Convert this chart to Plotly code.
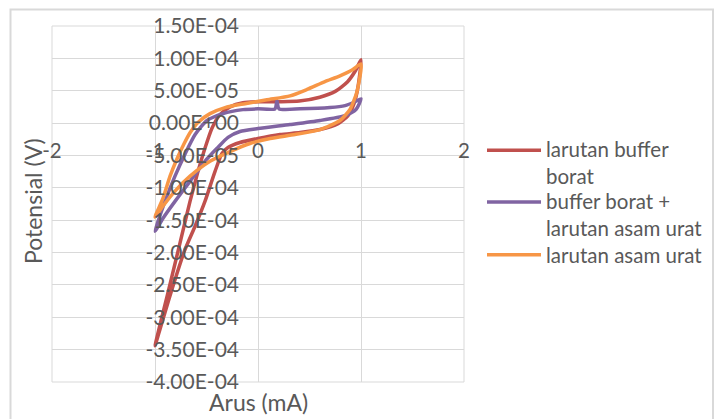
import plotly.graph_objects as go

# ---- data -------------------------------------------------------------
series_names = ["larutan buffer borat", "buffer borat + larutan asam urat", "larutan asam urat"]
legend_labels = ["larutan buffer<br>borat", "buffer borat +<br>larutan asam urat", "larutan asam urat"]
series_colors = ["#C0504D", "#8064A2", "#F79646"]

# larutan buffer borat: forward sweep then reverse sweep
buffer_x = [-1.0, -0.874, -0.757, -0.660, -0.583, -0.515, -0.447, -0.369, -0.272, -0.146, 0.0,
            0.214, 0.40, 0.60, 0.75, 0.87, 0.95, 1.0,
            0.971, 0.932, 0.874, 0.777, 0.602, 0.408, 0.214, 0.0, -0.175, -0.291, -0.350,
            -0.417, -0.515, -0.610, -0.715, -0.855, -1.0]
buffer_y = [-3.44e-4, -2.62e-4, -1.85e-4, -1.21e-4, -7.5e-5, -3.9e-5, -8e-6, 1.3e-5, 2.5e-5, 3.15e-5, 3.3e-5,
            3.3e-5, 3.4e-5, 4.0e-5, 4.9e-5, 6.4e-5, 8.2e-5, 9.8e-5,
            5.6e-5, 3.0e-5, 1.15e-5, -1e-6, -1.0e-5, -1.46e-5, -1.77e-5, -2.38e-5, -3.0e-5, -3.77e-5, -4.7e-5,
            -7.46e-5, -1.21e-4, -1.59e-4, -1.98e-4, -2.67e-4, -3.44e-4]

# buffer borat + larutan asam urat
campur_x = [-1.0, -0.971, -0.903, -0.806, -0.709, -0.612, -0.495, -0.340, -0.146, 0.0, 0.165, 0.184, 0.204,
            0.408, 0.699, 0.845, 0.942, 1.0,
            0.951, 0.845, 0.602, 0.311, 0.0, -0.175, -0.291, -0.398, -0.515, -0.660, -0.806, -0.922, -1.0]
campur_y = [-1.67e-4, -1.52e-4, -1.21e-4, -8.2e-5, -4.8e-5, -1.8e-5, 4e-6, 1.46e-5, 2.08e-5, 2.2e-5, 2.2e-5, 3.45e-5, 2.2e-5,
            2.2e-5, 2.4e-5, 2.7e-5, 3.3e-5, 3.75e-5,
            2.1e-5, 1.15e-5, 4e-6, -2.3e-6, -8.5e-6, -1.3e-5, -2.2e-5, -3.9e-5, -5.9e-5, -9.0e-5, -1.21e-4, -1.47e-4, -1.67e-4]

# larutan asam urat
urat_x = [-1.0, -0.922, -0.854, -0.786, -0.718, -0.660, -0.583, -0.466, -0.320, -0.126, 0.087, 0.311, 0.476,
          0.650, 0.796, 0.913, 1.0,
          0.961, 0.893, 0.796, 0.602, 0.359, 0.117, -0.078, -0.272, -0.466, -0.660, -0.806, -0.922, -1.0]
urat_y = [-1.45e-4, -1.16e-4, -8.2e-5, -5.5e-5, -3.2e-5, -1.5e-5, 1e-6, 1.46e-5, 2.4e-5, 3.0e-5, 3.6e-5, 4.2e-5, 5.2e-5,
          6.4e-5, 7.3e-5, 8.2e-5, 9.15e-5,
          4.85e-5, 2.1e-5, 4e-6, -1.0e-5, -1.77e-5, -2.38e-5, -3.15e-5, -4.4e-5, -5.9e-5, -8.2e-5, -1.05e-4, -1.28e-4, -1.45e-4]

x_tick_vals = [-2, -1, 0, 1, 2]
x_tick_text = ["-2", "-1", "0", "1", "2"]
y_tick_vals = [1.5e-4, 1.0e-4, 5.0e-5, 0.0, -5.0e-5, -1.0e-4, -1.5e-4, -2.0e-4, -2.5e-4, -3.0e-4, -3.5e-4, -4.0e-4]
y_tick_text = ["1.50E-04", "1.00E-04", "5.00E-05", "0.00E+00", "-5.00E-05", "-1.00E-04", "-1.50E-04",
               "-2.00E-04", "-2.50E-04", "-3.00E-04", "-3.50E-04", "-4.00E-04"]

# ---- layout geometry (pixels) ----------------------------------------
W, H = 714, 419
ML, MR, MT, MB = 52, 250, 24, 37
PW, PH = W - ML - MR, H - MT - MB


def px_x(px):
    return (px - ML) / PW


def px_y(py):
    return (H - MB - py) / PH


TEXT = "#595959"
GRID = "#D9D9D9"
FONT = "Lato"

fig = go.Figure()
for name, xs, ys, col in zip(series_names, [buffer_x, campur_x, urat_x], [buffer_y, campur_y, urat_y], series_colors):
    fig.add_trace(go.Scatter(x=xs, y=ys, mode="lines", name=name, showlegend=False,
                             line=dict(color=col, width=3.5, shape="spline", smoothing=0.6)))

x_min, x_max = x_tick_vals[0], x_tick_vals[-1]
y_min, y_max = y_tick_vals[-1], y_tick_vals[0]

fig.update_layout(
    width=W, height=H,
    margin=dict(l=ML, r=MR, t=MT, b=MB, pad=0),
    paper_bgcolor="white", plot_bgcolor="white",
    font=dict(family=FONT, color=TEXT, size=20),
    xaxis=dict(range=[x_min, x_max], tickvals=x_tick_vals, ticktext=x_tick_text,
               showgrid=True, gridcolor=GRID, gridwidth=1, zeroline=False,
               showline=False, ticks="", anchor="free",
               position=(0 - y_min) / (y_max - y_min),
               ticklabelstandoff=13, tickfont=dict(size=20.5, color=TEXT)),
    yaxis=dict(range=[y_min, y_max], tickvals=y_tick_vals, ticktext=y_tick_text,
               showgrid=True, gridcolor=GRID, gridwidth=1, zeroline=False,
               showline=False, ticks="", anchor="free",
               position=(0 - x_min) / (x_max - x_min),
               ticklabelstandoff=19, tickfont=dict(size=21, color=TEXT)),
)

# plot area outline (left/bottom/right/top gridlines)
fig.add_shape(type="rect", xref="paper", yref="paper", x0=0, x1=1, y0=0, y1=1,
              line=dict(color=GRID, width=1), layer="below")
# chart area border
fig.add_shape(type="rect", xref="paper", yref="paper",
              x0=px_x(10.5), x1=px_x(713), y0=px_y(430), y1=px_y(7.5),
              line=dict(color=GRID, width=2), layer="below")

# axis titles
fig.add_annotation(text="Arus (mA)", xref="paper", yref="paper", x=px_x(258), y=px_y(402),
                   showarrow=False, font=dict(size=23, color=TEXT), xanchor="center", yanchor="middle")
fig.add_annotation(text="Potensial (V)", xref="paper", yref="paper", x=px_x(33), y=px_y(200),
                   showarrow=False, textangle=-90, font=dict(size=23, color=TEXT),
                   xanchor="center", yanchor="middle")

# legend
legend_rows = [149, 201, 254]
legend_text_mid = [161.5, 214, 254]
for lab, col, ly, ty in zip(legend_labels, series_colors, legend_rows, legend_text_mid):
    fig.add_shape(type="line", xref="paper", yref="paper", x0=px_x(487), x1=px_x(541),
                  y0=px_y(ly), y1=px_y(ly), line=dict(color=col, width=3.5))
    fig.add_annotation(text=lab, xref="paper", yref="paper", x=px_x(544), y=px_y(ty),
                       showarrow=False, align="left", xanchor="left", yanchor="middle",
                       font=dict(size=20.5, color=TEXT))

fig.write_html("out.html")
